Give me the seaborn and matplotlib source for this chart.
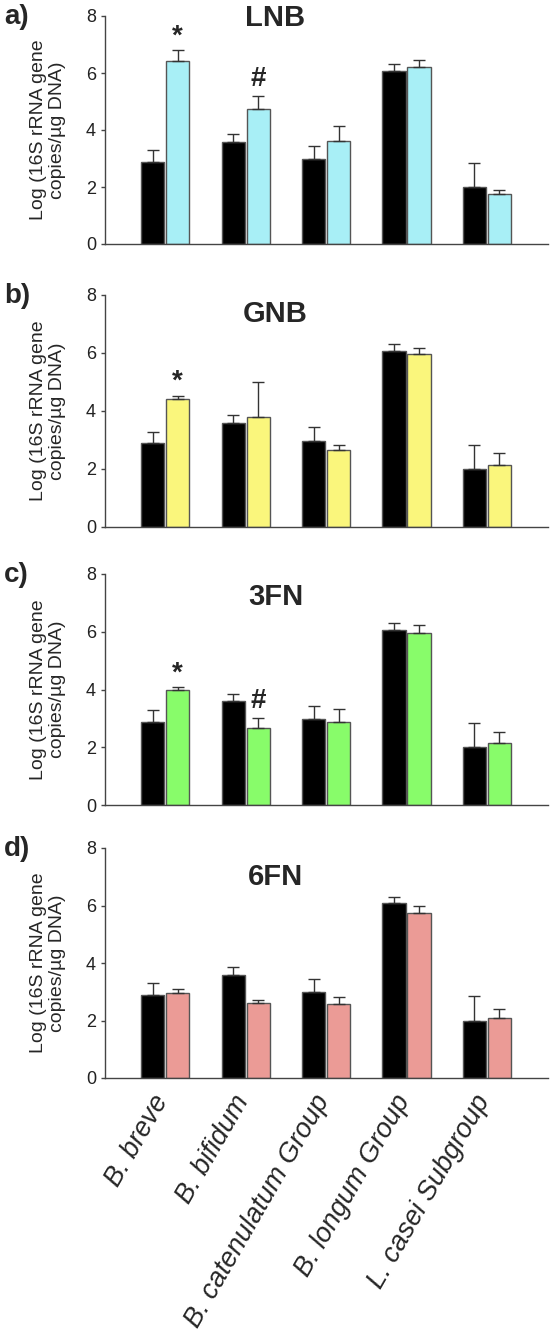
import numpy as np
import pandas as pd
import seaborn as sns
import matplotlib.pyplot as plt
import matplotlib.transforms as mtransforms


species = ['B. breve', 'B. bifidum', 'B. catenulatum Group',
           'B. longum Group', 'L. casei Subgroup']

# control (black) is the same baseline in every panel
control = [2.88, 3.59, 2.98, 6.07, 2.00]
control_err = [0.41, 0.26, 0.46, 0.23, 0.84]

panels = ['LNB', 'GNB', '3FN', '6FN']
panel_tags = ['a)', 'b)', 'c)', 'd)']
panel_colors = ['#A8EFF6', '#FAF67C', '#88FC6A', '#EB9B96']

lnb = [6.42, 4.75, 3.60, 6.21, 1.74]
lnb_err = [0.37, 0.44, 0.54, 0.24, 0.14]
gnb = [4.43, 3.81, 2.65, 5.97, 2.13]
gnb_err = [0.10, 1.18, 0.19, 0.21, 0.42]
fn3 = [3.99, 2.65, 2.89, 5.97, 2.15]
fn3_err = [0.08, 0.35, 0.45, 0.27, 0.38]
fn6 = [2.96, 2.60, 2.58, 5.75, 2.09]
fn6_err = [0.14, 0.11, 0.24, 0.23, 0.32]

treat_vals = [lnb, gnb, fn3, fn6]
treat_errs = [lnb_err, gnb_err, fn3_err, fn6_err]

# significance marks: (panel, species index, symbol)
marks = [(0, 0, '*'), (0, 1, '#'), (1, 0, '*'), (2, 0, '*'), (2, 1, '#')]

sns.set_style('white')
plt.rcParams['font.family'] = ['Liberation Sans', 'DejaVu Sans']

fig = plt.figure(figsize=(5.5, 13.4), dpi=100)

# axes boxes in pixels: (top, bottom)
boxes = [(16, 244), (295, 527), (574, 805), (848, 1078)]
title_y = [0.99, 0.918, 0.90, 0.874]
left, right = 105, 548

for i, name in enumerate(panels):
    top, bot = boxes[i]
    ax = fig.add_axes([left / 550, 1 - bot / 1340,
                       (right - left) / 550, (bot - top) / 1340])

    df = pd.DataFrame({
        'Species': species * 2,
        'Group': ['Control'] * 5 + [name] * 5,
        'Value': control + treat_vals[i],
    })
    sns.barplot(data=df, x='Species', y='Value', hue='Group',
                order=species, palette=['black', panel_colors[i]],
                saturation=1, width=0.62, gap=0.07, errorbar=None,
                legend=False, edgecolor='#555555', linewidth=1, ax=ax)

    errs = [control_err, treat_errs[i]]
    vals = [control, treat_vals[i]]
    for cont, e, v in zip(ax.containers, errs, vals):
        xs = [b.get_x() + b.get_width() / 2 for b in cont]
        ax.errorbar(xs, v, yerr=[np.zeros(5), e], fmt='none',
                    ecolor='#333333', elinewidth=1, capsize=4.5,
                    capthick=1, zorder=1)

    for p, s, sym in marks:
        if p != i:
            continue
        b = ax.containers[1][s]
        x = b.get_x() + b.get_width() / 2
        y = treat_vals[i][s] + treat_errs[i][s]
        off = 0.02 if sym == '*' else 0.15
        ax.text(x, y + off, sym, ha='center', va='bottom',
                fontsize=20, fontweight='bold')

    ax.set_xlim(-0.75, 4.76)
    ax.set_ylim(0, 8)
    ax.set_yticks([0, 2, 4, 6, 8])
    ax.tick_params(axis='y', labelsize=13, length=3, width=1,
                   color='#444444', left=True, labelcolor='#222222')
    ax.tick_params(axis='x', length=0)
    sns.despine(ax=ax)
    for sp in ['left', 'bottom']:
        ax.spines[sp].set_color('#444444')
        ax.spines[sp].set_linewidth(1)

    ax.set_xlabel('')
    ax.set_ylabel('Log (16S rRNA gene\ncopies/\u00b5g DNA)', fontsize=14,
                  linespacing=1.15)
    ax.yaxis.set_label_coords(-0.088, 0.5)

    ax.text(0.385, title_y[i], name, transform=ax.transAxes,
            ha='center', va='center', fontsize=21, fontweight='bold')
    fig.text(4 / 550, 1 - ((top + 1) / 1340), panel_tags[i],
             ha='left', va='center', fontsize=20, fontweight='bold')

    if i < 3:
        ax.set_xticklabels([])
    else:
        ax.set_xticks(range(5))
        ax.set_xticklabels(species, rotation=60, ha='right',
                           rotation_mode='anchor', fontsize=19.5,
                           style='italic')
        ax.tick_params(axis='x', pad=9)
        shift = mtransforms.ScaledTranslation(-10 / 72, 0,
                                              fig.dpi_scale_trans)
        for lab in ax.get_xticklabels():
            lab.set_transform(lab.get_transform() + shift)

fig.savefig('out.png', dpi=100)
